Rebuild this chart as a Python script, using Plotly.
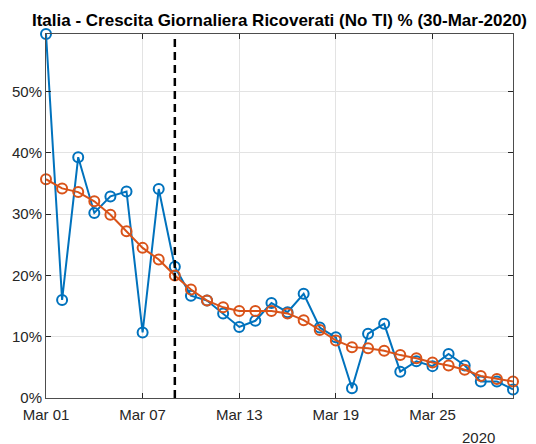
import pandas as pd
import plotly.graph_objects as go

# daily growth of hospitalised (non-ICU) patients, Italy, % per day
dates = pd.date_range("2020-03-01", "2020-03-30", freq="D")
growth = [59.4, 16.0, 39.3, 30.2, 32.9, 33.7, 10.7, 34.1, 21.4, 16.7,
          15.9, 13.8, 11.6, 12.6, 15.5, 14.0, 17.0, 11.5, 9.9, 1.6,
          10.5, 12.1, 4.3, 6.0, 5.2, 7.2, 5.3, 2.7, 2.7, 1.4]
trend = [35.7, 34.2, 33.6, 32.1, 29.9, 27.2, 24.5, 22.6, 20.0, 17.7,
         15.9, 14.8, 14.2, 14.2, 14.2, 13.8, 12.7, 11.1, 9.4, 8.3,
         8.1, 7.7, 7.0, 6.5, 5.8, 5.3, 4.6, 3.6, 3.1, 2.7]
lockdown_day = "2020-03-09"
x_ticks = ["2020-03-01", "2020-03-07", "2020-03-13", "2020-03-19", "2020-03-25"]
x_tick_labels = ["Mar 01", "Mar 07", "Mar 13", "Mar 19", "Mar 25"]
y_ticks = [0, 10, 20, 30, 40, 50]
y_tick_labels = ["0%", "10%", "20%", "30%", "40%", "50%"]

blue = "#0072BD"
orange = "#D95319"
axis_col = "#262626"

fig = go.Figure()
fig.add_trace(go.Scatter(
    x=dates, y=growth, mode="lines+markers",
    line=dict(color=blue, width=2),
    marker=dict(symbol="circle-open", size=10, color=blue, line=dict(width=2)),
    cliponaxis=False, showlegend=False,
))
fig.add_trace(go.Scatter(
    x=dates, y=trend, mode="lines+markers",
    line=dict(color=orange, width=2),
    marker=dict(symbol="circle-open", size=10, color=orange, line=dict(width=2)),
    cliponaxis=False, showlegend=False,
))
fig.add_vline(x=lockdown_day, line=dict(color="black", width=2.5, dash="8px,5px"))

# page body has an 8px margin, so the figure is sized to fit the window
fig.update_layout(
    width=528, height=436,
    margin=dict(l=38, r=23, t=26, b=46),
    paper_bgcolor="white", plot_bgcolor="white",
    font=dict(family="Liberation Sans, Arial, sans-serif", size=15, color=axis_col),
    title=dict(
        text="<b>Italia - Crescita Giornaliera Ricoverati (No TI) % (30-Mar-2020)</b>",
        xref="paper", x=0.5, xanchor="center", y=0.972, yanchor="middle",
        font=dict(size=17, color="black"),
    ),
    annotations=[dict(
        text="2020", xref="paper", yref="paper", x=0.927, y=-0.108,
        xanchor="center", yanchor="middle", showarrow=False,
        font=dict(size=15, color=axis_col),
    )],
)
fig.update_xaxes(
    type="date", range=["2020-03-01", "2020-03-30"], automargin=False,
    tickvals=x_ticks, ticktext=x_tick_labels, ticklabelstandoff=3,
    ticks="inside", ticklen=5, tickcolor=axis_col,
    showline=True, linecolor="#4d4d4d", linewidth=1, mirror="ticks",
    showgrid=True, gridcolor="#e3e3e3", gridwidth=1, zeroline=False,
)
fig.update_yaxes(
    range=[0, max(growth)], automargin=False,
    tickvals=y_ticks, ticktext=y_tick_labels,
    ticks="inside", ticklen=5, tickcolor=axis_col,
    showline=True, linecolor="#4d4d4d", linewidth=1, mirror="ticks",
    showgrid=True, gridcolor="#e3e3e3", gridwidth=1, zeroline=False,
)

fig.write_html("out.html")
